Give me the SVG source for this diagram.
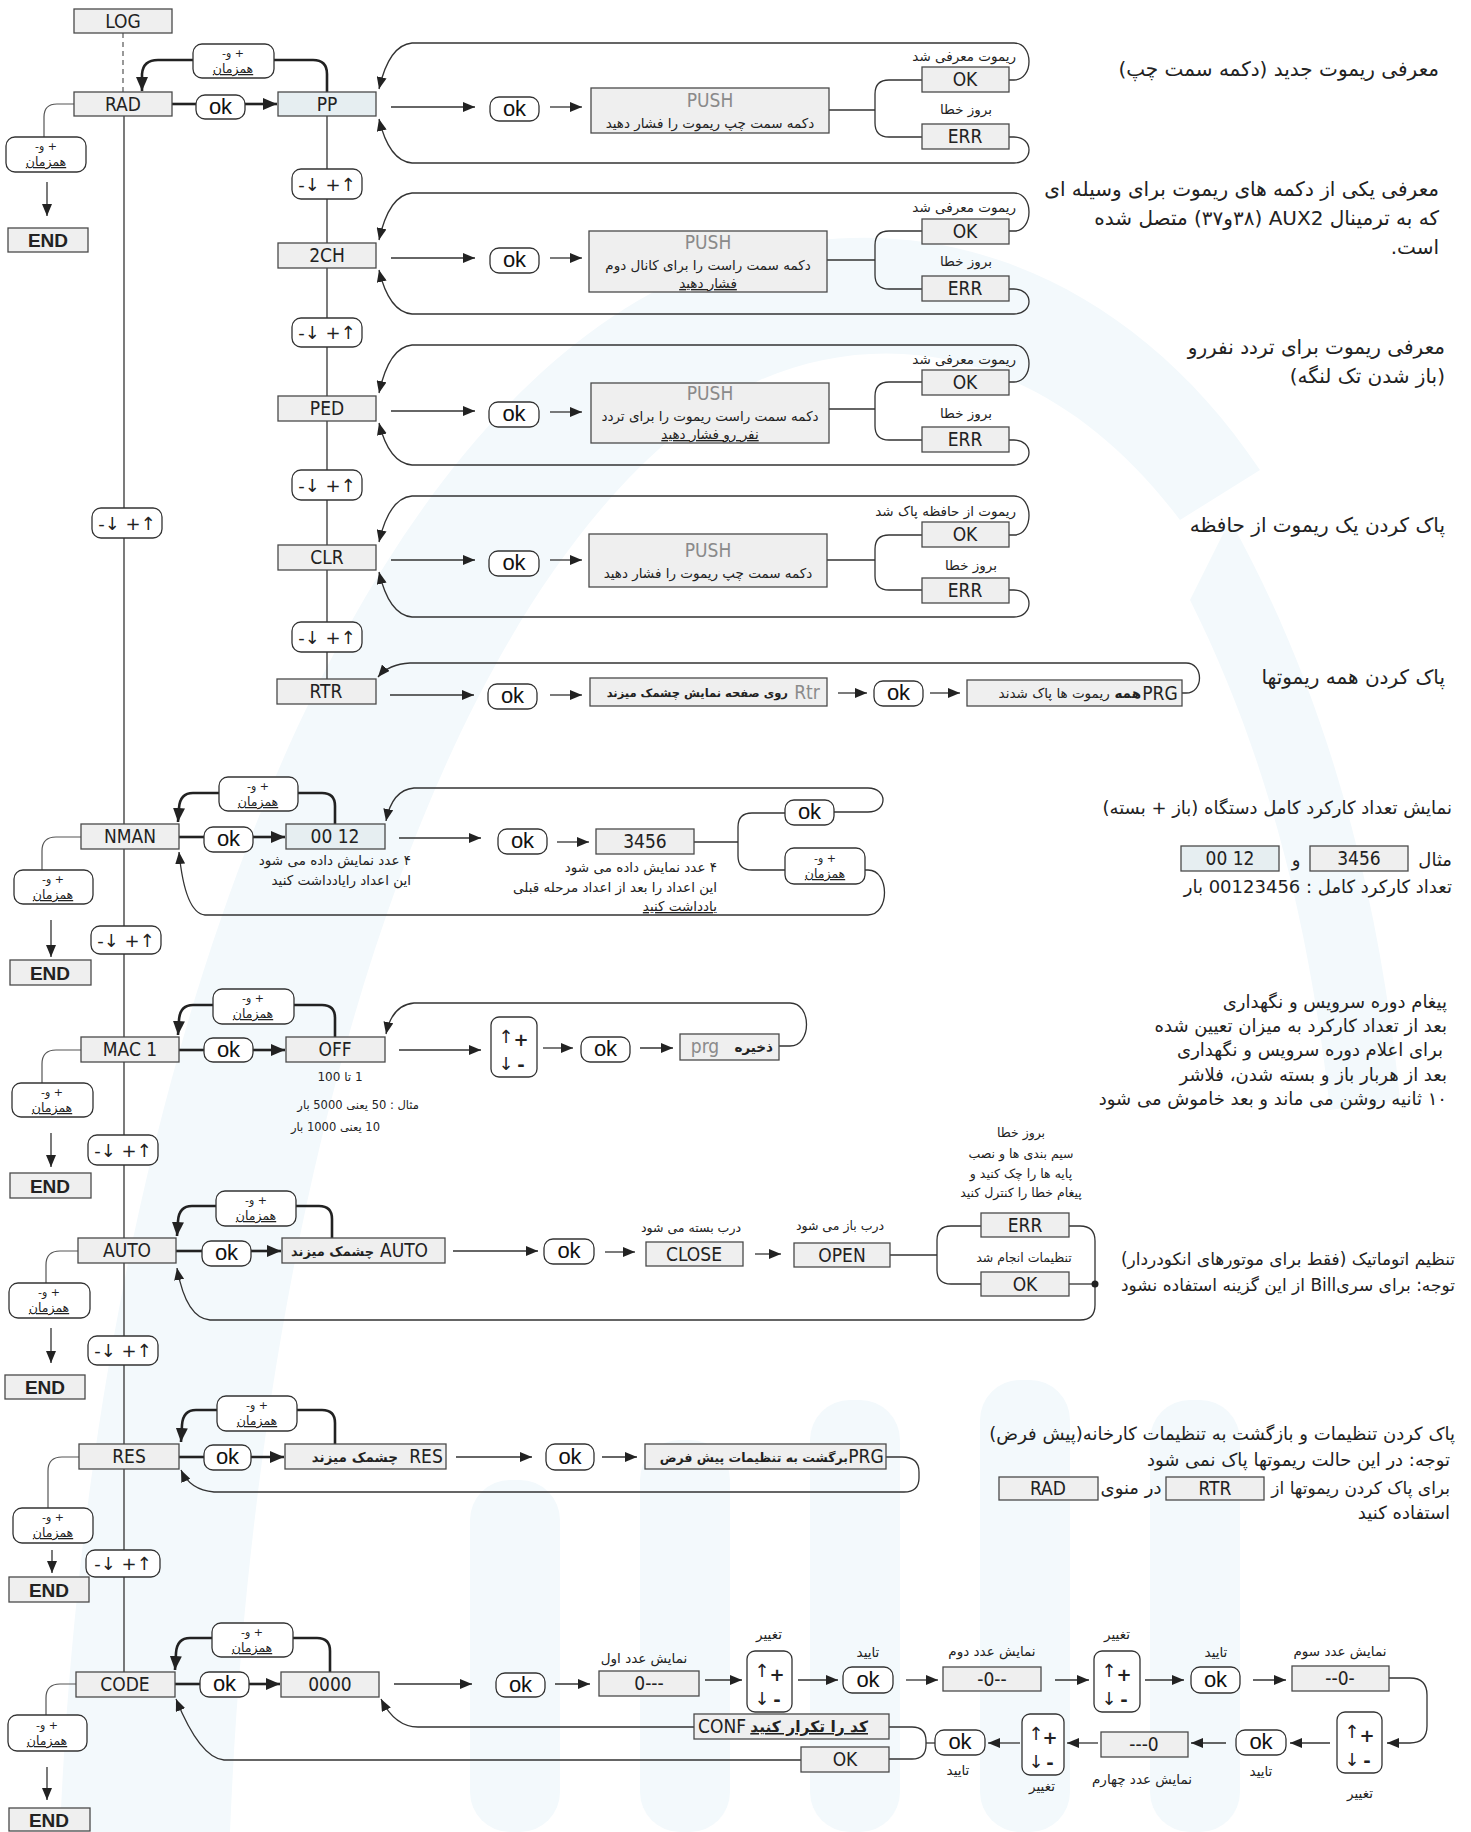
<svg xmlns="http://www.w3.org/2000/svg" width="1471" height="1832" viewBox="0 0 1471 1832">
<defs>
<style>
.lcd{fill:#efefef;stroke:#4a4a4a;stroke-width:1.3}
.lcdb{fill:#e6eef1;stroke:#4a4a4a;stroke-width:1.3}
.bub{fill:#ffffff;stroke:#333;stroke-width:1.3}
.ln{fill:none;stroke:#333;stroke-width:1.3}
.lg{fill:none;stroke:#555;stroke-width:1.2}
.th{fill:none;stroke:#222;stroke-width:2.6}
.lt{font-family:'DejaVu Sans Condensed','DejaVu Sans',sans-serif;font-stretch:condensed;font-size:19px;fill:#222;text-anchor:middle}
.ltg{font-family:'DejaVu Sans Condensed','DejaVu Sans',sans-serif;font-stretch:condensed;font-size:19px;fill:#8a8a8a;text-anchor:middle}
.ok{font-family:'Liberation Sans',Arial,sans-serif;font-size:22px;fill:#111;text-anchor:middle}
.end{font-family:'Liberation Sans',Arial,sans-serif;font-size:19px;font-weight:bold;fill:#222;text-anchor:middle}
.ud{font-family:'DejaVu Sans',sans-serif;font-size:18px;fill:#222;text-anchor:middle}
.fa{font-family:'DejaVu Sans',sans-serif;fill:#222;direction:rtl}
.s11{font-size:11px}.s12{font-size:12.5px}.s13{font-size:13.5px}.s15{font-size:15.5px}.s16{font-size:18px}.s17{font-size:17px}.s18{font-size:20px}
.mid{text-anchor:middle}.rt{text-anchor:start}
.u{text-decoration:underline}.b{font-weight:bold}
.wm{fill:#f3f9fc}
</style>
<marker id="a" viewBox="0 0 12 10" refX="12" refY="5" markerWidth="12" markerHeight="10" markerUnits="userSpaceOnUse" orient="auto"><path d="M0,0L12,5L0,10z" fill="#222"/></marker>
<marker id="b" viewBox="0 0 14 12" refX="14" refY="6" markerWidth="14" markerHeight="12" markerUnits="userSpaceOnUse" orient="auto"><path d="M0,0L14,6L0,12z" fill="#222"/></marker>
</defs>
<rect width="1471" height="1832" fill="#ffffff"/>
<g id="watermark">
<path class="wm" d="M60,1832 C90,1100 330,420 700,270 C900,190 1120,260 1260,470 L1180,520 C1060,360 900,320 760,380 C470,520 260,1100 230,1832 Z"/>
<path class="wm" d="M1230,520 C1330,700 1380,900 1400,1100 L1330,1110 C1310,930 1270,760 1190,600 Z"/>
<rect class="wm" x="470" y="1480" width="90" height="352" rx="40"/>
<rect class="wm" x="640" y="1440" width="90" height="392" rx="40"/>
<rect class="wm" x="810" y="1400" width="90" height="432" rx="40"/>
<rect class="wm" x="980" y="1380" width="90" height="452" rx="40"/>
<rect class="wm" x="1150" y="1400" width="90" height="432" rx="40"/>
</g>

<g id="connectors">
<path d="M123,33 V92" fill="none" stroke="#555" stroke-width="1.2" stroke-dasharray="5,4"/>
<path class="ln" d="M124,116 V1672"/>
<path class="ln" d="M327,116 V679"/>
<path class="th" d="M172,104 H196"/>
<path class="th" d="M245,104 H277" marker-end="url(#b)"/>
<path class="th" d="M327,92 V74 Q327,60 313,60 H274"/>
<path class="th" d="M193,60 H158 Q143,60 142,74 L142,91" marker-end="url(#b)"/>
<path class="lg" d="M74,104 H57 Q44,104 44,117 V137"/>
<path class="ln" d="M47,182 V216" marker-end="url(#a)"/>
<path class="ln" d="M391,107 H475" marker-end="url(#a)"/>
<path class="ln" d="M550,107 H582" marker-end="url(#a)"/>
<path class="ln" d="M829,110 H875"/>
<path class="ln" d="M922,80 H889 Q875,80 875,94 V123 Q875,137 889,137 H922"/>
<path class="ln" d="M1009,80 H1014 C1034,80 1034,43 1014,43 H412 Q389,45 379,89" marker-end="url(#a)"/>
<path class="ln" d="M1009,137 H1014 C1034,137 1034,163 1014,163 H412 Q389,161 379,119" marker-end="url(#a)"/>
<path class="ln" d="M391,258 H475" marker-end="url(#a)"/>
<path class="ln" d="M550,258 H582" marker-end="url(#a)"/>
<path class="ln" d="M827,260 H875"/>
<path class="ln" d="M922,231 H889 Q875,231 875,245 V275 Q875,289 889,289 H922"/>
<path class="ln" d="M1009,231 H1014 C1034,231 1034,193 1014,193 H412 Q389,195 379,240" marker-end="url(#a)"/>
<path class="ln" d="M1009,289 H1014 C1034,289 1034,314 1014,314 H412 Q389,312 379,270" marker-end="url(#a)"/>
<path class="ln" d="M391,411 H475" marker-end="url(#a)"/>
<path class="ln" d="M550,412 H582" marker-end="url(#a)"/>
<path class="ln" d="M829,409 H875"/>
<path class="ln" d="M922,382 H889 Q875,382 875,396 V426 Q875,440 889,440 H922"/>
<path class="ln" d="M1009,382 H1014 C1034,382 1034,345 1014,345 H412 Q389,347 379,393" marker-end="url(#a)"/>
<path class="ln" d="M1009,440 H1014 C1034,440 1034,465 1014,465 H412 Q389,463 379,423" marker-end="url(#a)"/>
<path class="ln" d="M391,560 H475" marker-end="url(#a)"/>
<path class="ln" d="M550,560 H582" marker-end="url(#a)"/>
<path class="ln" d="M827,560 H875"/>
<path class="ln" d="M922,535 H889 Q875,535 875,549 V576 Q875,590 889,590 H922"/>
<path class="ln" d="M1009,535 H1014 C1034,535 1034,496 1014,496 H412 Q389,498 379,542" marker-end="url(#a)"/>
<path class="ln" d="M1009,590 H1014 C1034,590 1034,617 1014,617 H412 Q389,615 379,572" marker-end="url(#a)"/>
<path class="ln" d="M390,695 H474" marker-end="url(#a)"/>
<path class="ln" d="M550,695 H582" marker-end="url(#a)"/>
<path class="ln" d="M838,693 H867" marker-end="url(#a)"/>
<path class="ln" d="M930,693 H960" marker-end="url(#a)"/>
<path class="ln" d="M1182,693 H1186 C1204,693 1204,663 1186,663 H410 Q389,664 378,677" marker-end="url(#a)"/>
<path class="th" d="M179,837 H204"/>
<path class="th" d="M253,837 H285" marker-end="url(#b)"/>
<path class="th" d="M335,824 V806 Q335,793 322,793 H298"/>
<path class="th" d="M219,793 H193 Q180,793 179,808 L178,822" marker-end="url(#b)"/>
<path class="ln" d="M399,838 H481" marker-end="url(#a)"/>
<path class="ln" d="M557,842 H589" marker-end="url(#a)"/>
<path class="ln" d="M694,842 H738"/>
<path class="ln" d="M785,813 H752 Q738,813 738,827 V856 Q738,870 752,870 H785"/>
<path class="ln" d="M834,812 H868 C888,812 888,788 868,788 H414 Q392,790 386,821" marker-end="url(#a)"/>
<path class="ln" d="M865,870 H868 C890,870 890,915 868,915 H205 Q185,913 179,852" marker-end="url(#a)"/>
<path class="lg" d="M81,837 H56 Q42,837 42,851 V870"/>
<path class="ln" d="M51,920 V957" marker-end="url(#a)"/>
<path class="th" d="M179,1050 H204"/>
<path class="th" d="M253,1050 H285" marker-end="url(#b)"/>
<path class="th" d="M335,1037 V1018 Q335,1005 322,1005 H294"/>
<path class="th" d="M213,1005 H193 Q180,1005 179,1020 L178,1035" marker-end="url(#b)"/>
<path class="ln" d="M399,1050 H481" marker-end="url(#a)"/>
<path class="ln" d="M543,1048 H573" marker-end="url(#a)"/>
<path class="ln" d="M640,1048 H673" marker-end="url(#a)"/>
<path class="ln" d="M779,1046 H790 C812,1046 812,1003 790,1003 H414 Q392,1005 386,1034" marker-end="url(#a)"/>
<path class="lg" d="M81,1050 H56 Q42,1050 42,1064 V1083"/>
<path class="ln" d="M51,1133 V1167" marker-end="url(#a)"/>
<path class="th" d="M176,1251 H202"/>
<path class="th" d="M251,1251 H281" marker-end="url(#b)"/>
<path class="th" d="M332,1238 V1219 Q332,1206 319,1206 H296"/>
<path class="th" d="M216,1206 H192 Q179,1206 178,1221 L177,1236" marker-end="url(#b)"/>
<path class="ln" d="M453,1251 H538" marker-end="url(#a)"/>
<path class="ln" d="M605,1252 H635" marker-end="url(#a)"/>
<path class="ln" d="M755,1254 H781" marker-end="url(#a)"/>
<path class="ln" d="M890,1255 H937"/>
<path class="ln" d="M981,1226 H951 Q937,1226 937,1240 V1270 Q937,1284 951,1284 H981"/>
<path class="ln" d="M1069,1226 H1080 Q1095,1226 1095,1241 V1305 Q1095,1320 1080,1320 H210 Q186,1318 177,1268" marker-end="url(#a)"/>
<path class="ln" d="M1069,1284 H1095"/>
<circle cx="1095" cy="1284" r="3.5" fill="#222"/>
<path class="lg" d="M78,1251 H60 Q46,1251 46,1265 V1283"/>
<path class="ln" d="M51,1328 V1363" marker-end="url(#a)"/>
<path class="th" d="M179,1457 H204"/>
<path class="th" d="M251,1457 H284" marker-end="url(#b)"/>
<path class="th" d="M335,1444 V1423 Q335,1410 322,1410 H297"/>
<path class="th" d="M217,1410 H196 Q183,1410 182,1425 L181,1442" marker-end="url(#b)"/>
<path class="ln" d="M456,1457 H532" marker-end="url(#a)"/>
<path class="ln" d="M602,1457 H637" marker-end="url(#a)"/>
<path class="ln" d="M886,1457 H902 Q919,1457 919,1472 V1478 Q919,1492 904,1492 H214 Q190,1490 181,1470" marker-end="url(#a)"/>
<path class="lg" d="M79,1457 H62 Q48,1457 48,1471 V1508"/>
<path class="ln" d="M52,1550 V1573" marker-end="url(#a)"/>
<path class="th" d="M175,1684 H200"/>
<path class="th" d="M249,1684 H280" marker-end="url(#b)"/>
<path class="th" d="M330,1672 V1651 Q330,1638 317,1638 H293"/>
<path class="th" d="M212,1638 H190 Q177,1638 176,1653 L175,1670" marker-end="url(#b)"/>
<path class="ln" d="M394,1684 H472" marker-end="url(#a)"/>
<path class="ln" d="M555,1684 H590" marker-end="url(#a)"/>
<path class="ln" d="M705,1680 H742" marker-end="url(#a)"/>
<path class="ln" d="M798,1680 H838" marker-end="url(#a)"/>
<path class="ln" d="M906,1680 H938" marker-end="url(#a)"/>
<path class="ln" d="M1055,1680 H1089" marker-end="url(#a)"/>
<path class="ln" d="M1145,1680 H1184" marker-end="url(#a)"/>
<path class="ln" d="M1253,1680 H1286" marker-end="url(#a)"/>
<path class="ln" d="M1389,1678 H1410 Q1427,1678 1427,1695 V1726 Q1427,1743 1410,1743 H1387" marker-end="url(#a)"/>
<path class="ln" d="M1330,1743 H1290" marker-end="url(#a)"/>
<path class="ln" d="M1226,1743 H1191" marker-end="url(#a)"/>
<path class="ln" d="M1098,1743 H1067" marker-end="url(#a)"/>
<path class="ln" d="M1020,1743 H988" marker-end="url(#a)"/>
<path class="ln" d="M935,1743 H926"/>
<path class="ln" d="M889,1727 H912 Q926,1727 926,1741 V1745 Q926,1759 912,1759 H889"/>
<path class="ln" d="M694,1727 H418 Q395,1727 381,1699" marker-end="url(#a)"/>
<path class="ln" d="M801,1760 H224 Q200,1758 176,1699" marker-end="url(#a)"/>
<path class="lg" d="M76,1684 H60 Q46,1684 46,1698 V1715"/>
<path class="ln" d="M47,1767 V1800" marker-end="url(#a)"/>
</g>

<g id="node-log"><rect class="lcd" x="74" y="9" width="98" height="24"/><text class="lt" x="123" y="28">LOG</text></g>
<g id="node-rad"><rect class="lcd" x="74" y="92" width="98" height="24"/><text class="lt" x="123" y="111">RAD</text></g>
<g id="node-pp"><rect class="lcdb" x="278" y="92" width="98" height="24"/><text class="lt" x="327" y="111">PP</text></g>
<g id="node-2ch"><rect class="lcd" x="278" y="243" width="98" height="25"/><text class="lt" x="327" y="262">2CH</text></g>
<g id="node-ped"><rect class="lcd" x="278" y="396" width="98" height="25"/><text class="lt" x="327" y="415">PED</text></g>
<g id="node-clr"><rect class="lcd" x="278" y="545" width="98" height="25"/><text class="lt" x="327" y="564">CLR</text></g>
<g id="node-rtr"><rect class="lcd" x="277" y="679" width="99" height="25"/><text class="lt" x="326" y="698">RTR</text></g>
<g id="node-nman"><rect class="lcd" x="81" y="824" width="98" height="25"/><text class="lt" x="130" y="843">NMAN</text></g>
<g id="node-mac1"><rect class="lcd" x="81" y="1037" width="98" height="25"/><text class="lt" x="130" y="1056">MAC 1</text></g>
<g id="node-auto"><rect class="lcd" x="78" y="1238" width="98" height="25"/><text class="lt" x="127" y="1257">AUTO</text></g>
<g id="node-res"><rect class="lcd" x="79" y="1444" width="100" height="25"/><text class="lt" x="129" y="1463">RES</text></g>
<g id="node-code"><rect class="lcd" x="76" y="1672" width="99" height="25"/><text class="lt" x="125" y="1691">CODE</text></g>

<g id="end-rad"><rect class="lcd" x="8" y="228" width="80" height="24"/><text class="end" x="48" y="247">END</text></g>
<g id="end-nman"><rect class="lcd" x="10" y="960" width="81" height="25"/><text class="end" x="50" y="980">END</text></g>
<g id="end-mac1"><rect class="lcd" x="10" y="1173" width="81" height="25"/><text class="end" x="50" y="1193">END</text></g>
<g id="end-auto"><rect class="lcd" x="5" y="1375" width="80" height="24"/><text class="end" x="45" y="1394">END</text></g>
<g id="end-res"><rect class="lcd" x="9" y="1577" width="80" height="25"/><text class="end" x="49" y="1597">END</text></g>
<g id="end-code"><rect class="lcd" x="9" y="1808" width="81" height="23"/><text class="end" x="49" y="1827">END</text></g>

<g id="sync-rad"><rect class="bub" x="193" y="44" width="81" height="34" rx="9"/><text class="fa s11 mid" x="233" y="57">+ و-</text><text class="fa s12 mid u" x="233" y="73">همزمان</text></g>
<g id="sync-rad-l"><rect class="bub" x="6" y="137" width="80" height="35" rx="9"/><text class="fa s11 mid" x="46" y="150">+ و-</text><text class="fa s12 mid u" x="46" y="166">همزمان</text></g>
<g id="sync-nman"><rect class="bub" x="219" y="777" width="79" height="34" rx="9"/><text class="fa s11 mid" x="258" y="790">+ و-</text><text class="fa s12 mid u" x="258" y="806">همزمان</text></g>
<g id="sync-nman-l"><rect class="bub" x="14" y="870" width="79" height="34" rx="9"/><text class="fa s11 mid" x="53" y="883">+ و-</text><text class="fa s12 mid u" x="53" y="899">همزمان</text></g>
<g id="sync-nman-r"><rect class="bub" x="785" y="848" width="80" height="36" rx="9"/><text class="fa s11 mid" x="825" y="862">+ و-</text><text class="fa s12 mid u" x="825" y="878">همزمان</text></g>
<g id="sync-mac1"><rect class="bub" x="213" y="989" width="81" height="35" rx="9"/><text class="fa s11 mid" x="253" y="1002">+ و-</text><text class="fa s12 mid u" x="253" y="1018">همزمان</text></g>
<g id="sync-mac1-l"><rect class="bub" x="12" y="1083" width="81" height="34" rx="9"/><text class="fa s11 mid" x="52" y="1096">+ و-</text><text class="fa s12 mid u" x="52" y="1112">همزمان</text></g>
<g id="sync-auto"><rect class="bub" x="216" y="1191" width="80" height="35" rx="9"/><text class="fa s11 mid" x="256" y="1204">+ و-</text><text class="fa s12 mid u" x="256" y="1220">همزمان</text></g>
<g id="sync-auto-l"><rect class="bub" x="9" y="1283" width="81" height="35" rx="9"/><text class="fa s11 mid" x="49" y="1296">+ و-</text><text class="fa s12 mid u" x="49" y="1312">همزمان</text></g>
<g id="sync-res"><rect class="bub" x="217" y="1396" width="80" height="35" rx="9"/><text class="fa s11 mid" x="257" y="1409">+ و-</text><text class="fa s12 mid u" x="257" y="1425">همزمان</text></g>
<g id="sync-res-l"><rect class="bub" x="13" y="1508" width="80" height="35" rx="9"/><text class="fa s11 mid" x="53" y="1521">+ و-</text><text class="fa s12 mid u" x="53" y="1537">همزمان</text></g>
<g id="sync-code"><rect class="bub" x="212" y="1623" width="81" height="34" rx="9"/><text class="fa s11 mid" x="252" y="1636">+ و-</text><text class="fa s12 mid u" x="252" y="1652">همزمان</text></g>
<g id="sync-code-l"><rect class="bub" x="8" y="1715" width="79" height="36" rx="9"/><text class="fa s11 mid" x="47" y="1729">+ و-</text><text class="fa s12 mid u" x="47" y="1745">همزمان</text></g>

<g id="ud-1"><rect class="bub" x="292" y="169" width="70" height="30" rx="9"/><text class="ud" x="327" y="191">-↓ +↑</text></g>
<g id="ud-2"><rect class="bub" x="292" y="318" width="70" height="29" rx="9"/><text class="ud" x="327" y="339">-↓ +↑</text></g>
<g id="ud-3"><rect class="bub" x="292" y="470" width="70" height="30" rx="9"/><text class="ud" x="327" y="492">-↓ +↑</text></g>
<g id="ud-4"><rect class="bub" x="292" y="622" width="70" height="30" rx="9"/><text class="ud" x="327" y="644">-↓ +↑</text></g>
<g id="ud-m1"><rect class="bub" x="92" y="508" width="70" height="30" rx="9"/><text class="ud" x="127" y="530">-↓ +↑</text></g>
<g id="ud-m2"><rect class="bub" x="91" y="926" width="70" height="28" rx="9"/><text class="ud" x="126" y="947">-↓ +↑</text></g>
<g id="ud-m3"><rect class="bub" x="88" y="1135" width="70" height="30" rx="9"/><text class="ud" x="123" y="1157">-↓ +↑</text></g>
<g id="ud-m4"><rect class="bub" x="88" y="1336" width="70" height="29" rx="9"/><text class="ud" x="123" y="1357">-↓ +↑</text></g>
<g id="ud-m5"><rect class="bub" x="86" y="1550" width="74" height="27" rx="9"/><text class="ud" x="123" y="1570">-↓ +↑</text></g>

<g id="ok-rad"><rect class="bub" x="196" y="95" width="49" height="24" rx="9"/><text class="ok" x="220.5" y="114">ok</text></g>
<g id="ok-pp"><rect class="bub" x="490" y="97" width="49" height="24" rx="9"/><text class="ok" x="514.5" y="116">ok</text></g>
<g id="ok-2ch"><rect class="bub" x="490" y="248" width="49" height="25" rx="9"/><text class="ok" x="514.5" y="267">ok</text></g>
<g id="ok-ped"><rect class="bub" x="489" y="402" width="50" height="25" rx="9"/><text class="ok" x="514" y="421">ok</text></g>
<g id="ok-clr"><rect class="bub" x="489" y="551" width="50" height="25" rx="9"/><text class="ok" x="514" y="570">ok</text></g>
<g id="ok-rtr"><rect class="bub" x="488" y="684" width="49" height="25" rx="9"/><text class="ok" x="512.5" y="703">ok</text></g>
<g id="ok-rtr2"><rect class="bub" x="874" y="681" width="49" height="25" rx="9"/><text class="ok" x="898.5" y="700">ok</text></g>
<g id="ok-nman"><rect class="bub" x="204" y="827" width="49" height="25" rx="9"/><text class="ok" x="228.5" y="846">ok</text></g>
<g id="ok-nman2"><rect class="bub" x="498" y="829" width="49" height="25" rx="9"/><text class="ok" x="522.5" y="848">ok</text></g>
<g id="ok-nman3"><rect class="bub" x="785" y="800" width="49" height="25" rx="9"/><text class="ok" x="809.5" y="819">ok</text></g>
<g id="ok-mac1"><rect class="bub" x="204" y="1038" width="49" height="24" rx="9"/><text class="ok" x="228.5" y="1057">ok</text></g>
<g id="ok-mac1b"><rect class="bub" x="581" y="1037" width="49" height="25" rx="9"/><text class="ok" x="605.5" y="1056">ok</text></g>
<g id="ok-auto"><rect class="bub" x="202" y="1241" width="49" height="25" rx="9"/><text class="ok" x="226.5" y="1260">ok</text></g>
<g id="ok-auto2"><rect class="bub" x="544" y="1239" width="50" height="25" rx="9"/><text class="ok" x="569" y="1258">ok</text></g>
<g id="ok-res"><rect class="bub" x="204" y="1445" width="47" height="25" rx="9"/><text class="ok" x="227.5" y="1464">ok</text></g>
<g id="ok-res2"><rect class="bub" x="546" y="1444" width="48" height="26" rx="9"/><text class="ok" x="570" y="1464">ok</text></g>
<g id="ok-code"><rect class="bub" x="200" y="1672" width="49" height="25" rx="9"/><text class="ok" x="224.5" y="1691">ok</text></g>
<g id="ok-code2"><rect class="bub" x="496" y="1673" width="49" height="24" rx="9"/><text class="ok" x="520.5" y="1692">ok</text></g>
<g id="ok-code3"><rect class="bub" x="843" y="1667" width="50" height="26" rx="9"/><text class="ok" x="868" y="1687">ok</text></g>
<g id="ok-code4"><rect class="bub" x="1191" y="1667" width="49" height="26" rx="9"/><text class="ok" x="1215.5" y="1687">ok</text></g>
<g id="ok-code5"><rect class="bub" x="1236" y="1730" width="50" height="25" rx="9"/><text class="ok" x="1261" y="1749">ok</text></g>
<g id="ok-code6"><rect class="bub" x="935" y="1730" width="50" height="25" rx="9"/><text class="ok" x="960" y="1749">ok</text></g>

<g id="push-pp"><rect class="lcd" x="591" y="88" width="238" height="45"/><text class="ltg" x="710" y="107">PUSH</text><text class="fa s13 mid" x="710" y="128">دکمه سمت چپ ریموت را فشار دهید</text></g>
<g id="ok-pp-r"><rect class="lcd" x="922" y="67" width="87" height="25"/><text class="lt" x="965" y="86">OK</text></g>
<g id="err-pp"><rect class="lcd" x="922" y="124" width="87" height="25"/><text class="lt" x="965" y="143">ERR</text></g>
<text class="fa s13 rt" x="1016" y="61">ریموت معرفی شد</text>
<text class="fa s13 mid" x="966" y="114">بروز خطا</text>

<g id="push-2ch"><rect class="lcd" x="589" y="231" width="238" height="61"/><text class="ltg" x="708" y="249">PUSH</text><text class="fa s13 mid" x="708" y="270">دکمه سمت راست را برای کانال دوم</text><text class="fa s13 mid u" x="708" y="288">فشار دهید</text></g>
<g id="ok-2ch-r"><rect class="lcd" x="922" y="219" width="87" height="25"/><text class="lt" x="965" y="238">OK</text></g>
<g id="err-2ch"><rect class="lcd" x="922" y="276" width="87" height="25"/><text class="lt" x="965" y="295">ERR</text></g>
<text class="fa s13 rt" x="1016" y="212">ریموت معرفی شد</text>
<text class="fa s13 mid" x="966" y="266">بروز خطا</text>

<g id="push-ped"><rect class="lcd" x="591" y="383" width="238" height="60"/><text class="ltg" x="710" y="400">PUSH</text><text class="fa s13 mid" x="710" y="421">دکمه سمت راست ریموت را برای تردد</text><text class="fa s13 mid u" x="710" y="439">نفر رو فشار دهید</text></g>
<g id="ok-ped-r"><rect class="lcd" x="922" y="370" width="87" height="25"/><text class="lt" x="965" y="389">OK</text></g>
<g id="err-ped"><rect class="lcd" x="922" y="427" width="87" height="25"/><text class="lt" x="965" y="446">ERR</text></g>
<text class="fa s13 rt" x="1016" y="364">ریموت معرفی شد</text>
<text class="fa s13 mid" x="966" y="418">بروز خطا</text>

<g id="push-clr"><rect class="lcd" x="589" y="534" width="238" height="53"/><text class="ltg" x="708" y="557">PUSH</text><text class="fa s13 mid" x="708" y="578">دکمه سمت چپ ریموت را فشار دهید</text></g>
<g id="ok-clr-r"><rect class="lcd" x="922" y="522" width="87" height="25"/><text class="lt" x="965" y="541">OK</text></g>
<g id="err-clr"><rect class="lcd" x="922" y="578" width="87" height="25"/><text class="lt" x="965" y="597">ERR</text></g>
<text class="fa s13 rt" x="1016" y="516">ریموت از حافظه پاک شد</text>
<text class="fa s13 mid" x="971" y="570">بروز خطا</text>

<g id="rtr-blink"><rect class="lcd" x="590" y="678" width="237" height="28"/><text class="ltg" x="807" y="699">Rtr</text><text class="fa rt b" font-size="11.5px" x="788" y="697">روی صفحه نمایش چشمک میزند</text></g>
<g id="rtr-prg"><rect class="lcd" x="967" y="680" width="215" height="26"/><text class="lt" x="1160" y="700">PRG</text><text class="fa s13 rt b" x="1141" y="698">همه <tspan font-weight="normal">ریموت ها پاک شدند</tspan></text></g>

<g id="nman-0012"><rect class="lcdb" x="286" y="824" width="99" height="25"/><text class="lt" x="335" y="843">00 12</text></g>
<g id="nman-3456"><rect class="lcd" x="596" y="829" width="98" height="25"/><text class="lt" x="645" y="848">3456</text></g>
<text class="fa s13 rt" x="411" y="865">۴ عدد نمایش داده می شود</text>
<text class="fa s13 rt" x="411" y="885">این اعداد رایادداشت کنید</text>
<text class="fa s13 rt" x="717" y="872">۴ عدد نمایش داده می شود</text>
<text class="fa s13 rt" x="717" y="892">این اعداد را بعد از اعداد مرحله قبلی</text>
<text class="fa s13 rt u" x="717" y="911">یادداشت کنید</text>

<g id="mac1-off"><rect class="lcd" x="286" y="1037" width="99" height="25"/><text class="lt" x="335" y="1056">OFF</text></g>
<g id="mac1-pm"><rect class="bub" x="491" y="1017" width="46" height="60" rx="8"/><text class="ud" x="506" y="1043">↑</text><text class="ud b" x="521" y="1046" font-size="16">+</text><text class="ud" x="506" y="1070">↓</text><text class="ud b" x="521" y="1071" font-size="16">-</text></g>
<g id="mac1-save"><rect class="lcd" x="680" y="1034" width="99" height="26"/><text class="ltg" x="705" y="1053">prg</text><text class="fa s13 rt b" x="773" y="1052">ذخیره</text></g>
<text class="fa mid" font-size="12px" x="340" y="1081">1 تا 100</text>
<text class="fa rt" font-size="11.5px" x="419" y="1109">مثال : 50 یعنی 5000 بار</text>
<text class="fa rt" font-size="11.5px" x="380" y="1131">10 یعنی 1000 بار</text>

<g id="auto-blink"><rect class="lcd" x="282" y="1238" width="163" height="25"/><text class="lt" x="404" y="1257">AUTO</text><text class="fa rt b" font-size="13px" x="374" y="1256">چشمک میزند</text></g>
<g id="auto-close"><rect class="lcd" x="646" y="1242" width="97" height="24"/><text class="lt" x="694" y="1261">CLOSE</text></g>
<g id="auto-open"><rect class="lcd" x="794" y="1243" width="96" height="24"/><text class="lt" x="842" y="1262">OPEN</text></g>
<g id="auto-err"><rect class="lcd" x="981" y="1213" width="88" height="24"/><text class="lt" x="1025" y="1232">ERR</text></g>
<g id="auto-ok"><rect class="lcd" x="981" y="1272" width="88" height="24"/><text class="lt" x="1025" y="1291">OK</text></g>
<text class="fa s12 mid" x="691" y="1232">درب بسته می شود</text>
<text class="fa s12 mid" x="840" y="1230">درب باز می شود</text>
<text class="fa s12 mid" x="1024" y="1262">تنظیمات انجام شد</text>
<text class="fa s12 mid" x="1021" y="1137">بروز خطا</text>
<text class="fa s12 mid" x="1021" y="1158">سیم بندی ها و نصب</text>
<text class="fa s12 mid" x="1021" y="1178">پایه ها را چک کنید و</text>
<text class="fa s12 mid" x="1021" y="1197">پیغام خطا را کنترل کنید</text>

<g id="res-blink"><rect class="lcd" x="285" y="1444" width="161" height="25"/><text class="lt" x="426" y="1463">RES</text><text class="fa s13 rt b" x="398" y="1462">چشمک میزند</text></g>
<g id="res-prg"><rect class="lcd" x="645" y="1444" width="241" height="25"/><text class="lt" x="866" y="1463">PRG</text><text class="fa rt b" font-size="12.5px" x="848" y="1462">برگشت به تنظیمات پیش فرض</text></g>

<g id="code-0000"><rect class="lcd" x="281" y="1672" width="98" height="25"/><text class="lt" x="330" y="1691">0000</text></g>
<g id="code-d1"><rect class="lcd" x="599" y="1671" width="100" height="25"/><text class="lt" x="649" y="1690">0---</text></g>
<g id="code-d2"><rect class="lcd" x="943" y="1667" width="98" height="24"/><text class="lt" x="992" y="1686">-0--</text></g>
<g id="code-d3"><rect class="lcd" x="1292" y="1666" width="97" height="25"/><text class="lt" x="1340" y="1685">--0-</text></g>
<g id="code-d4"><rect class="lcd" x="1101" y="1732" width="87" height="25"/><text class="lt" x="1144" y="1751">---0</text></g>
<g id="code-conf"><rect class="lcd" x="694" y="1714" width="195" height="25"/><text class="lt" x="722" y="1733">CONF</text><text class="fa s15 rt b u" x="868" y="1732">کد را تکرار کنید</text></g>
<g id="code-ok"><rect class="lcd" x="801" y="1747" width="88" height="25"/><text class="lt" x="845" y="1766">OK</text></g>
<g id="code-pm1"><rect class="bub" x="747" y="1651" width="45" height="61" rx="8"/><text class="ud" x="762" y="1677">↑</text><text class="ud b" x="777" y="1681" font-size="16">+</text><text class="ud" x="762" y="1705">↓</text><text class="ud b" x="777" y="1706" font-size="16">-</text></g>
<g id="code-pm2"><rect class="bub" x="1094" y="1651" width="46" height="61" rx="8"/><text class="ud" x="1109" y="1677">↑</text><text class="ud b" x="1124" y="1681" font-size="16">+</text><text class="ud" x="1109" y="1705">↓</text><text class="ud b" x="1124" y="1706" font-size="16">-</text></g>
<g id="code-pm3"><rect class="bub" x="1337" y="1712" width="45" height="61" rx="8"/><text class="ud" x="1352" y="1738">↑</text><text class="ud b" x="1367" y="1742" font-size="16">+</text><text class="ud" x="1352" y="1766">↓</text><text class="ud b" x="1367" y="1767" font-size="16">-</text></g>
<g id="code-pm4"><rect class="bub" x="1022" y="1714" width="42" height="61" rx="8"/><text class="ud" x="1036" y="1740">↑</text><text class="ud b" x="1050" y="1744" font-size="16">+</text><text class="ud" x="1036" y="1768">↓</text><text class="ud b" x="1050" y="1769" font-size="16">-</text></g>
<text class="fa s13 mid" x="644" y="1663">نمایش عدد اول</text>
<text class="fa s13 mid" x="769" y="1639">تغییر</text>
<text class="fa s13 mid" x="868" y="1657">تایید</text>
<text class="fa s13 mid" x="992" y="1656">نمایش عدد دوم</text>
<text class="fa s13 mid" x="1117" y="1639">تغییر</text>
<text class="fa s13 mid" x="1216" y="1657">تایید</text>
<text class="fa s13 mid" x="1340" y="1656">نمایش عدد سوم</text>
<text class="fa s13 mid" x="958" y="1775">تایید</text>
<text class="fa s13 mid" x="1042" y="1791">تغییر</text>
<text class="fa s13 mid" x="1142" y="1784">نمایش عدد چهارم</text>
<text class="fa s13 mid" x="1261" y="1776">تایید</text>
<text class="fa s13 mid" x="1360" y="1798">تغییر</text>

<g id="desc">
<text class="fa s18 rt" x="1439" y="76">معرفی ریموت جدید (دکمه سمت چپ)</text>
<text class="fa s18 rt" x="1439" y="196">معرفی یکی از دکمه های ریموت برای وسیله ای</text>
<text class="fa s18 rt" x="1439" y="225">که به ترمینال AUX2 (۳۸و۳۷) متصل شده</text>
<text class="fa s18 rt" x="1439" y="254">است.</text>
<text class="fa s18 rt" x="1445" y="354">معرفی ریموت برای تردد نفررو</text>
<text class="fa s18 rt" x="1445" y="383">(باز شدن تک لنگه)</text>
<text class="fa s18 rt" x="1445" y="532">پاک کردن یک ریموت از حافظه</text>
<text class="fa s18 rt" x="1445" y="684">پاک کردن همه ریموتها</text>
<text class="fa s16 rt" x="1452" y="814">نمایش تعداد کارکرد کامل دستگاه (باز + بسته)</text>
<text class="fa s16 rt" x="1452" y="866">مثال</text>
<rect class="lcd" x="1310" y="846" width="98" height="25"/><text class="lt" x="1359" y="865">3456</text>
<text class="fa s16 mid" x="1296" y="866">و</text>
<rect class="lcdb" x="1181" y="846" width="98" height="25"/><text class="lt" x="1230" y="865">00 12</text>
<text class="fa s16 rt" x="1452" y="893">تعداد کارکرد کامل : 00123456 بار</text>
<text class="fa s16 rt" x="1447" y="1008">پیغام دوره سرویس و نگهداری</text>
<text class="fa s16 rt" x="1447" y="1032">بعد از تعداد کارکرد به میزان تعیین شده</text>
<text class="fa s16 rt" x="1443" y="1056">برای اعلام دوره سرویس و نگهداری</text>
<text class="fa s16 rt" x="1447" y="1081">بعد از هربار باز و بسته شدن، فلاشر</text>
<text class="fa s16 rt" x="1447" y="1105">۱۰ ثانیه روشن می ماند و بعد خاموش می شود</text>
<text class="fa s17 rt" x="1455" y="1265">تنظیم اتوماتیک (فقط برای موتورهای انکودردار)</text>
<text class="fa s17 rt" x="1455" y="1291">توجه: برای سریBill  از این گزینه استفاده نشود</text>
<text class="fa s16 rt" x="1455" y="1440">پاک کردن تنظیمات و بازگشت به تنظیمات کارخانه(پیش فرض)</text>
<text class="fa s16 rt" x="1450" y="1466">توجه: در این حالت ریموتها پاک نمی شود</text>
<text class="fa s17 rt" x="1450" y="1494">برای پاک کردن ریموتها از</text>
<rect class="lcd" x="1166" y="1477" width="98" height="23"/><text class="lt" x="1215" y="1495">RTR</text>
<text class="fa s16 mid" x="1131" y="1494">در منوی</text>
<rect class="lcd" x="999" y="1477" width="99" height="23"/><text class="lt" x="1048" y="1495">RAD</text>
<text class="fa s16 rt" x="1450" y="1519">استفاده کنید</text>
</g>
</svg>
